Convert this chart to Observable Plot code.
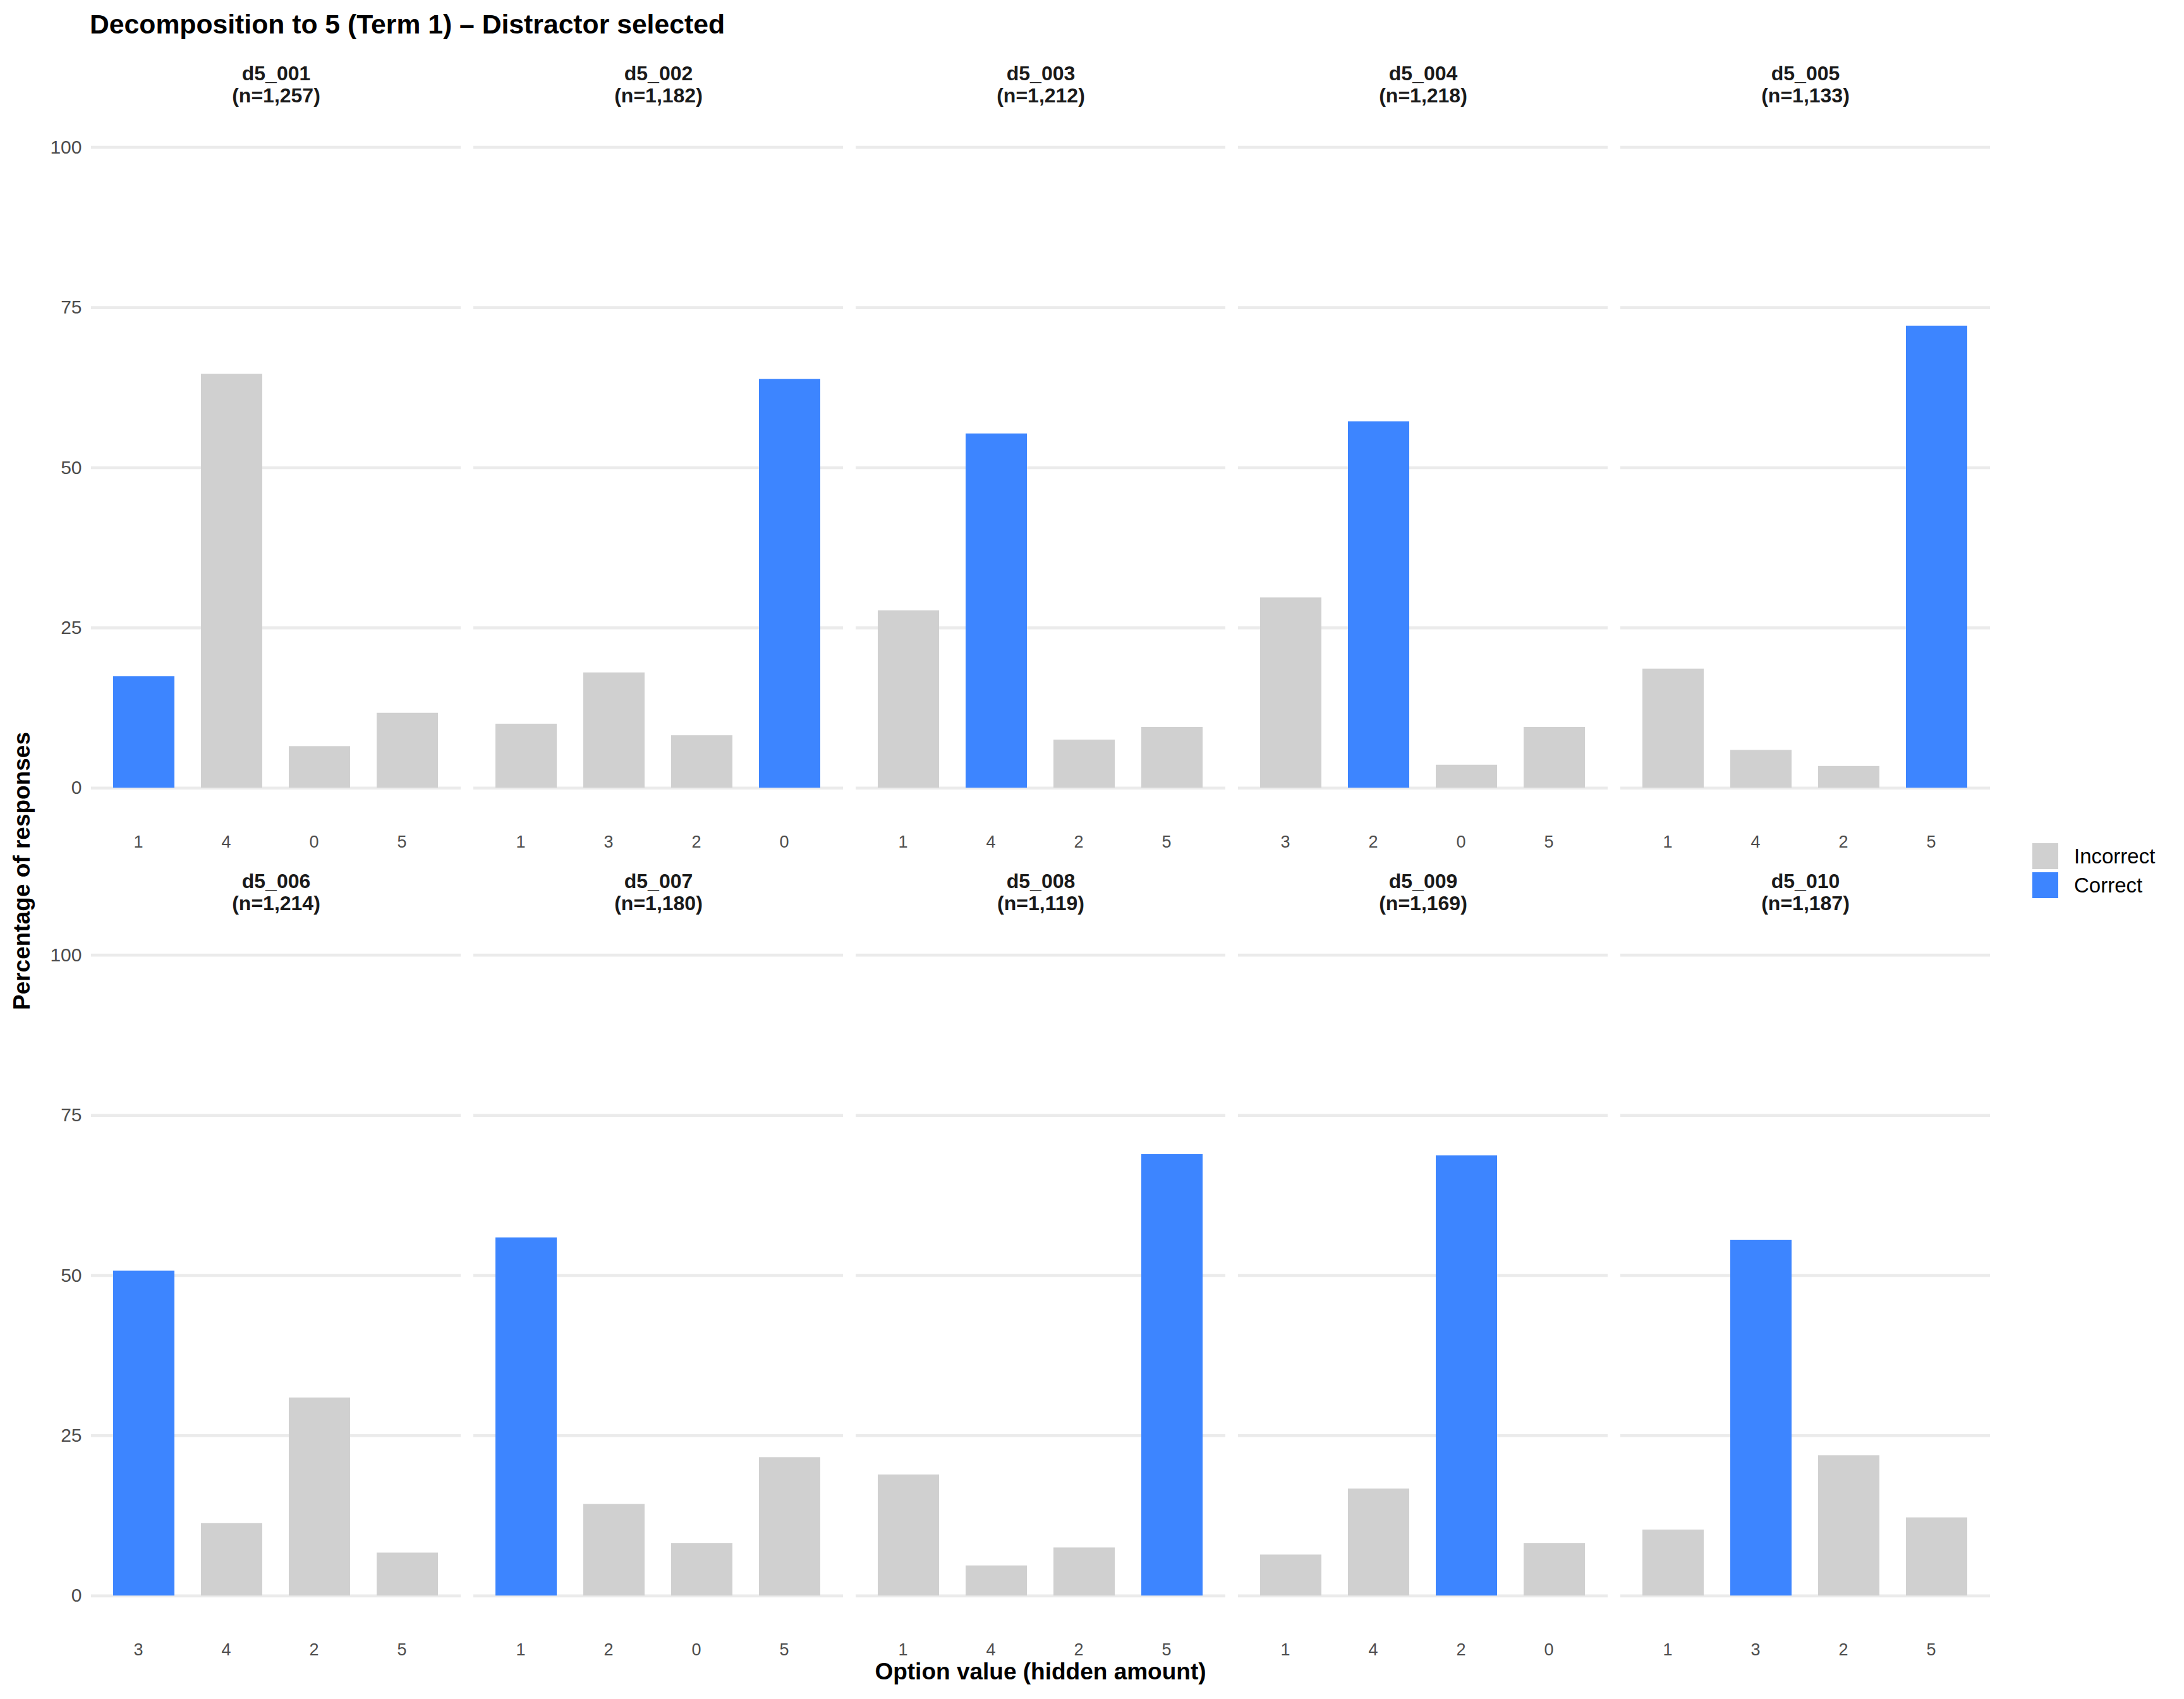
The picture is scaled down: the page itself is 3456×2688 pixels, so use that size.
<!DOCTYPE html>
<html><head><meta charset="utf-8">
<script src="https://cdn.jsdelivr.net/npm/d3@7"></script>
<script src="https://cdn.jsdelivr.net/npm/@observablehq/plot@0.6"></script>
<style>
html,body{margin:0;padding:0;background:#fff;}
#wrap{position:relative;width:3456px;height:2688px;font-family:"Liberation Sans",Arial,sans-serif;overflow:hidden;}
#title{position:absolute;left:142px;top:17px;font-size:42.7px;font-weight:bold;line-height:42.7px;color:#000;white-space:nowrap;}
#chart{position:absolute;left:0;top:80px;}
#overlay{position:absolute;left:0;top:0;pointer-events:none;}
</style></head><body>
<div id="wrap">
<div id="title">Decomposition to 5 (Term 1) – Distractor selected</div>
<div id="chart"></div>
<svg id="overlay" width="3456" height="2688" font-family="Liberation Sans, Arial, sans-serif"></svg>
</div>
<script>
const items = ["d5_001","d5_002","d5_003","d5_004","d5_005","d5_006","d5_007","d5_008","d5_009","d5_010"];
const ns = [1257, 1182, 1212, 1218, 1133, 1214, 1180, 1119, 1169, 1187];
const optionOrder = [[1,4,0,5],[1,3,2,0],[1,4,2,5],[3,2,0,5],[1,4,2,5],[3,4,2,5],[1,2,0,5],[1,4,2,5],[1,4,2,0],[1,3,2,5]];
const correctOption = [1, 0, 4, 2, 5, 3, 1, 5, 2, 3];
const percents = [
  [17.4, 64.6, 6.5, 11.7],
  [10.0, 18.0, 8.2, 63.8],
  [27.7, 55.3, 7.5, 9.5],
  [29.7, 57.2, 3.6, 9.5],
  [18.6, 5.9, 3.4, 72.1],
  [50.7, 11.3, 30.9, 6.7],
  [55.9, 14.3, 8.2, 21.6],
  [18.9, 4.7, 7.5, 68.9],
  [6.4, 16.7, 68.7, 8.2],
  [10.3, 55.5, 21.9, 12.2]
];
const yTicks = [0, 25, 50, 75, 100];
const statusLabels = ["Incorrect", "Correct"];
const statusColors = ["#D0D0D0", "#3D85FF"];

const FONT = "Liberation Sans, Arial, sans-serif";
const rows = [];
items.forEach((id, i) => optionOrder[i].forEach((opt, j) => rows.push({
  id, col: i % 5, row: Math.floor(i / 5), slot: j, option: String(opt),
  pct: percents[i][j], status: opt === correctOption[i] ? "Correct" : "Incorrect"
})));
const strips = items.map((id, i) => ({id, col: i % 5, row: Math.floor(i / 5), nlab: `(n=${d3.format(",")(ns[i])})`}));

const chart = Plot.plot({
  width: 3456, height: 2608,
  marginTop: 101.3, marginBottom: 112.3, marginLeft: 143, marginRight: 306,
  style: {fontFamily: FONT, fontSize: "30px", background: "white", color: "#000"},
  x: {domain: [0,1,2,3], paddingInner: 0.3, paddingOuter: 0.25, axis: null},
  y: {domain: [-5, 105], axis: null},
  fx: {domain: [0,1,2,3,4], paddingInner: 0.03386, paddingOuter: 0, axis: null},
  fy: {domain: [0,1], paddingInner: 0.1279, paddingOuter: 0, axis: null},
  color: {domain: statusLabels, range: statusColors},
  marks: [
    Plot.gridY({ticks: yTicks, stroke: "#EBEBEB", strokeWidth: 4.7, strokeOpacity: 1}),
    Plot.barY(rows, {x: "slot", y: "pct", fx: "col", fy: "row", fill: "status"}),
    Plot.axisY({ticks: yTicks, facetAnchor: "left", tickSize: 0, tickPadding: 15, fontSize: 30, color: "#4D4D4D", label: null}),
    Plot.text(rows, {x: "slot", fx: "col", fy: "row", text: "option", frameAnchor: "bottom", dx: -9, dy: 35, lineAnchor: "middle", fontSize: 27, fill: "#4D4D4D"}),
    Plot.text(strips, {fx: "col", fy: "row", text: "id", frameAnchor: "top", dy: -66, lineAnchor: "middle", fontSize: 32, fontWeight: "bold", fill: "#1A1A1A"}),
    Plot.text(strips, {fx: "col", fy: "row", text: "nlab", frameAnchor: "top", dy: -31, lineAnchor: "middle", fontSize: 32, fontWeight: "bold", fill: "#1A1A1A"})
  ]
});
document.getElementById("chart").appendChild(chart);

// axis titles and legend
const ov = d3.select("#overlay");
ov.append("text").attr("x", 1646.5).attr("y", 2657).attr("text-anchor", "middle")
  .attr("font-size", 37).attr("font-weight", "bold").attr("fill", "#000").text("Option value (hidden amount)");
ov.append("text").attr("transform", "translate(47,1378) rotate(-90)").attr("text-anchor", "middle")
  .attr("font-size", 37).attr("font-weight", "bold").attr("fill", "#000").text("Percentage of responses");
statusLabels.forEach((lab, i) => {
  ov.append("rect").attr("x", 3216).attr("y", 1334 + i * 46).attr("width", 41).attr("height", 41).attr("fill", statusColors[i]);
  ov.append("text").attr("x", 3282).attr("y", 1366 + i * 46).attr("font-size", 33).attr("fill", "#000").text(lab);
});
</script>
</body></html>
